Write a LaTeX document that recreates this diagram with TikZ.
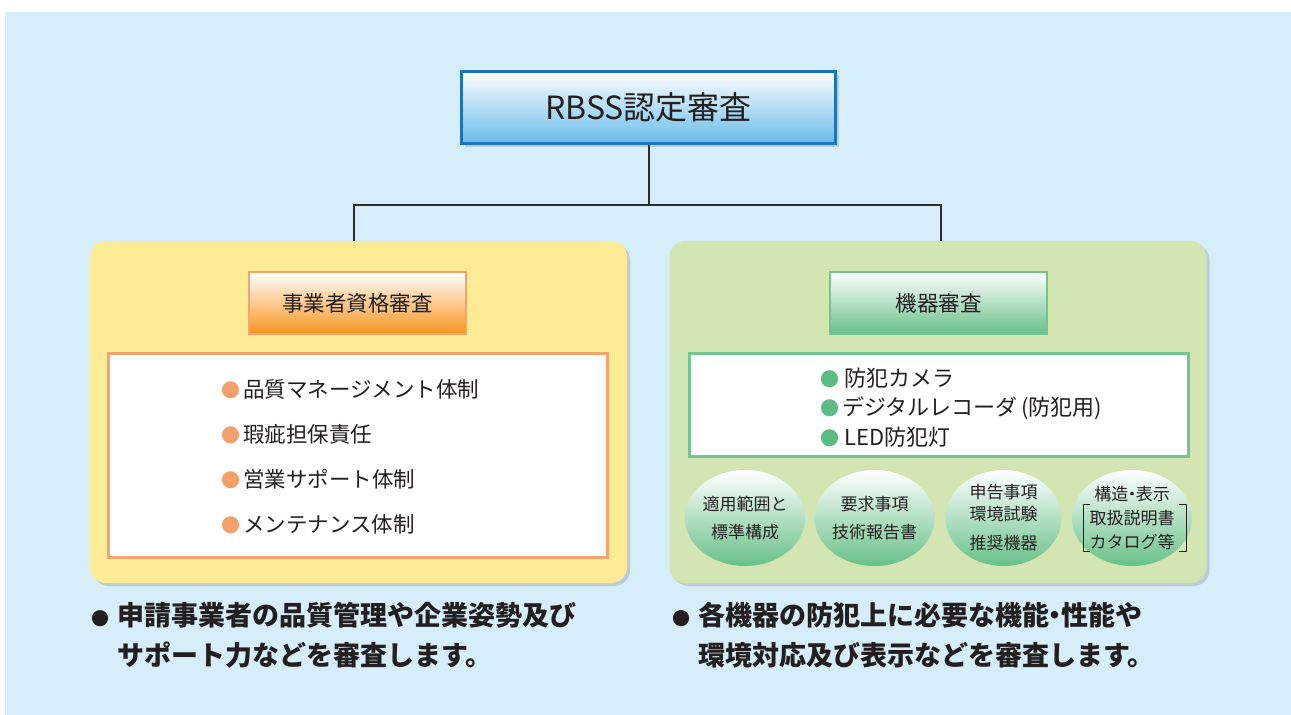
\documentclass[tikz,border=0pt]{standalone}
\usepackage{fontspec}
\setmainfont{Noto Sans CJK JP}
\usepackage{tikz}
\usetikzlibrary{positioning}
\usetikzlibrary{shapes.geometric, shadows}
\usetikzlibrary{calc}
\definecolor{bgblue}{RGB}{214,237,250}
\definecolor{panelyellow}{RGB}{254,235,149}
\definecolor{panelgreen}{RGB}{210,229,178}
\definecolor{topblue}{RGB}{104,187,232}
\definecolor{edgeblue}{RGB}{26,117,187}
\definecolor{headorange}{RGB}{247,148,29}
\definecolor{edgeorange}{RGB}{246,164,108}
\definecolor{dotorange}{RGB}{244,160,106}
\definecolor{headgreen}{RGB}{104,192,136}
\definecolor{edgegreen}{RGB}{112,198,142}
\definecolor{dotgreen}{RGB}{93,187,132}
\definecolor{inkgray}{RGB}{35,31,32}
\definecolor{linkgray}{RGB}{45,45,45}
\tikzstyle{link} = [line width=2pt, draw=linkgray]
\newcommand{\dotb}[2][19]{{\color{#2}\fontsize{#1}{#1}\selectfont ●}\hspace{3pt}}
\newcommand{\naka}{\kern-0.28em・\kern-0.28em}

\begin{document}
\begin{tikzpicture}[
    x = 1pt, y = -1pt, text = inkgray,
    topbox/.style = {draw = edgeblue, line width = 3pt, top color = white, bottom color = topblue,
                     minimum width = 374pt, minimum height = 72pt, font = \fontsize{32}{38}\selectfont,
                     drop shadow = {shadow xshift = 3pt, shadow yshift = -3pt, opacity = 0.3}},
    panel/.style = {rounded corners = 16pt, minimum width = 537pt, minimum height = 342pt,
                    drop shadow = {shadow xshift = 3pt, shadow yshift = -3pt, opacity = 0.3}},
    headbox/.style = {line width = 2pt, minimum width = 217pt, minimum height = 62pt,
                      font = \fontsize{21.5}{26}\selectfont},
    listbox/.style = {fill = white, line width = 3pt, minimum width = 499pt},
    items/.style = {align = left, anchor = west, inner sep = 0pt},
    pill/.style = {ellipse, minimum width = 116pt, minimum height = 96pt, inner sep = 0pt, align = center,
                   top color = white, middle color = headgreen!15!white, bottom color = headgreen},
    bracket/.style = {line width = 0.8pt, draw = inkgray},
    note/.style = {align = left, anchor = west, inner sep = 0pt, font = \bfseries\fontsize{27}{40}\selectfont}
  ]
  \useasboundingbox (0,0) rectangle (1291,715);
  \fill[bgblue] (5,12) rectangle (1291,715);

  % Top
  \node[topbox] (RBSS) at (648.5,107.5) {RBSS認定審査};

  % Panels
  \node[panel, fill = panelyellow] (Biz) at (358.5,412) {};
  \node[panel, fill = panelgreen] (Dev) at (938,412) {};

  % Connectors
  \coordinate (Fork) at (648.5,205);
  \draw[link] (RBSS.south) -- (Fork) -| ([xshift=-5pt]Biz.north);
  \draw[link] (Fork) -| ([xshift=3pt]Dev.north);

  % Headers
  \node[headbox, draw = edgeorange, top color = white, bottom color = headorange] (BizHead) at (357.5,303) {事業者資格審査};
  \node[headbox, draw = edgegreen, top color = white, bottom color = headgreen] (DevHead) at (938.5,303) {機器審査};

  % Lists
  \node[listbox, draw = edgeorange, minimum height = 204pt] (BizList) at (358,455.5) {};
  \node[items, font = \fontsize{21.5}{45}\selectfont] (BizItems) at (221,456.5)
    {\dotb{dotorange}品質マネージメント体制\\ \dotb{dotorange}瑕疵担保責任\\
     \dotb{dotorange}営業サポート体制\\ \dotb{dotorange}メンテナンス体制};
  \node[listbox, draw = edgegreen, minimum height = 103pt] (DevList) at (939,405) {};
  \node[items, font = \fontsize{22}{29.5}\selectfont] (DevItems) at (820,407.5)
    {\dotb{dotgreen}\hspace{2pt}防犯カメラ\\ \dotb{dotgreen}デジタルレコーダ\,(防犯用)\\
     \dotb{dotgreen}\hspace{2pt}LED防犯灯};

  % Items of the device check
  \node[pill, font = \fontsize{17}{28}\selectfont] (Scope) at (745,518) {適用範囲と\\標準構成};
  \node[pill, font = \fontsize{17}{28}\selectfont] (Req) at (874.5,518) {要求事項\\技術報告書};
  \node[pill, font = \fontsize{17}{22}\selectfont] (Decl) at (1003.5,518) {申告事項\\環境試験\\[7pt]推奨機器};
  \node[pill, font = \fontsize{17}{24}\selectfont] (Spec) at (1132,518) {構造\naka 表示\\取扱説明書\\カタログ等};
  \draw[bracket] ($(Spec.center)+(-42,-14)$) -- ++(-7,0) -- ++(0,47) -- ++(7,0);
  \draw[bracket] ($(Spec.center)+(47,-14)$) -- ++(7,0) -- ++(0,47) -- ++(-7,0);

  % Notes
  \node[note] (BizNote) at (91,635) {\dotb[18]{inkgray}\hspace{5pt}申請事業者の品質管理や企業姿勢及び\\
    \phantom{\dotb[18]{inkgray}\hspace{5pt}}サポート力などを審査します。};
  \node[note] (DevNote) at (672,635) {\dotb[18]{inkgray}\hspace{5pt}各機器の防犯上に必要な機能\naka 性能や\\
    \phantom{\dotb[18]{inkgray}\hspace{5pt}}環境対応及び表示などを審査します。};
\end{tikzpicture}
\end{document}
